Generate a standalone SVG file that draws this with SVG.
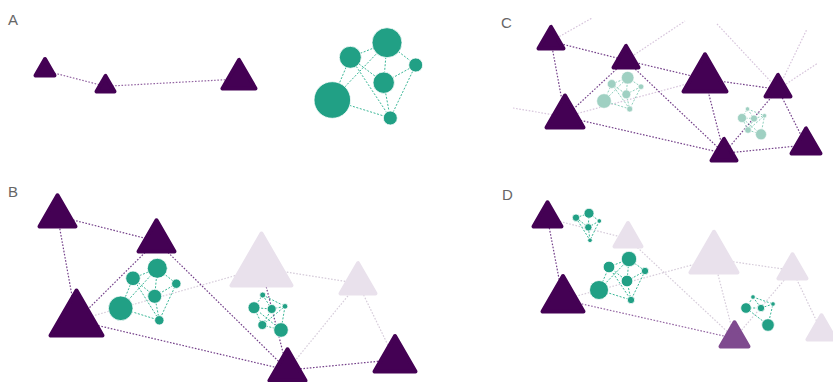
<svg xmlns="http://www.w3.org/2000/svg" width="833" height="382" viewBox="0 0 833 382">
<style>
.lbl{font-family:"Liberation Sans",Arial,sans-serif;font-size:15px;fill:#666}
.td{fill:#440154;stroke:#440154;stroke-width:4;stroke-linejoin:round}
.tl{fill:#e9e1ec;stroke:#e9e1ec;stroke-width:4;stroke-linejoin:round}
.tm{fill:#7f4a8f;stroke:#7f4a8f;stroke-width:4;stroke-linejoin:round}
.ed{fill:none;stroke:#74408a;stroke-width:1.2;stroke-dasharray:1.6 1.6}
.em{fill:none;stroke:#9466a3;stroke-width:1.2;stroke-dasharray:1.6 1.6}
.el{fill:none;stroke:#d6ccda;stroke-width:1.2;stroke-dasharray:1.6 1.6}
.ef{fill:none;stroke:#d7c5dc;stroke-width:1.2;stroke-dasharray:1.6 1.6}
.eg{fill:none;stroke:#3bb797;stroke-width:1;stroke-dasharray:2 1.6}
.egl{fill:none;stroke:#8fd0bd;stroke-width:1;stroke-dasharray:2 1.6}
.ng{fill:#21a085;stroke:#fff;stroke-width:0.8}
.ngl{fill:#9fd0c2;stroke:#fff;stroke-width:0.6}
</style>

<g id="labels">
<text class="lbl" x="8" y="25">A</text>
<text class="lbl" x="501" y="28">C</text>
<text class="lbl" x="8" y="197">B</text>
<text class="lbl" x="502" y="200">D</text>
</g>

<g id="connectors">
<path class="em" d="M45 70.7L105.5 86.3M105.5 86.3L239 79"/>
<path class="ef" d="M551 41.3L592 18M626 60.3L685 21M717 24L778 89.3M778 89.3L807 29M778 89.3L818 63M565 116.8L513 108M565 116.8L705 79.1"/>
<path class="ed" d="M551 41.3L626 60.3M551 41.3L565 116.8M626 60.3L565 116.8M626 60.3L705 79.1M626 60.3L724 153.3M705 79.1L778 89.3M705 79.1L724 153.3M565 116.8L724 153.3M778 89.3L724 153.3M778 89.3L806 145.1M724 153.3L806 145.1"/>
<path class="el" d="M76.5 320.5L261.5 268.2M261.5 268.2L358 283.4M358 283.4L287.5 370.1M358 283.4L395 359.7"/>
<path class="ed" d="M57.5 216.1L156.5 241.1M57.5 216.1L76.5 320.5M156.5 241.1L76.5 320.5M156.5 241.1L287.5 370.1M76.5 320.5L287.5 370.1M287.5 370.1L395 359.7M261.5 268.2L287.5 370.1"/>
<path class="el" d="M547.5 218.4L628 238.7M628 238.7L734.5 338.4M563 299.7L714 259M714 259L792.5 270.4M714 259L734.5 338.4M792.5 270.4L734.5 338.4M792.5 270.4L821.5 331.4"/>
<path class="ed" d="M547.5 218.4L563 299.7"/>
<path class="em" d="M563 299.7L734.5 338.4"/>
</g>

<g id="cluster-a">
<path class="eg" d="M350.3 57.3L387 42.7M350.3 57.3L332.3 100M332.3 100L387 42.7M387 42.7L415.7 65M387 42.7L383.7 82.7M415.7 65L383.7 82.7M383.7 82.7L390.3 118M350.3 57.3L383.7 82.7M350.3 57.3L390.3 118M415.7 65L390.3 118M332.3 100L390.3 118"/>
<circle class="ng" cx="332.3" cy="100" r="18.3"/>
<circle class="ng" cx="387" cy="42.7" r="15"/>
<circle class="ng" cx="350.3" cy="57.3" r="11"/>
<circle class="ng" cx="415.7" cy="65" r="7"/>
<circle class="ng" cx="383.7" cy="82.7" r="10.7"/>
<circle class="ng" cx="390.3" cy="118" r="7"/>
</g>

<g id="cluster-c1">
<path class="egl" d="M611.7 84L627.7 77.7M611.7 84L604 101M604 101L627.7 77.7M627.7 77.7L641 86.7M627.7 77.7L626.3 94.3M641 86.7L626.3 94.3M626.3 94.3L629.7 109M611.7 84L626.3 94.3M611.7 84L629.7 109M641 86.7L629.7 109M604 101L629.7 109"/>
<circle class="ngl" cx="604" cy="101" r="7.3"/>
<circle class="ngl" cx="627.7" cy="77.7" r="6.3"/>
<circle class="ngl" cx="611.7" cy="84" r="4.4"/>
<circle class="ngl" cx="641" cy="86.7" r="2.8"/>
<circle class="ngl" cx="626.3" cy="94.3" r="4.4"/>
<circle class="ngl" cx="629.7" cy="109" r="3"/>
</g>

<g id="cluster-c2">
<path class="egl" d="M748 130L742 118M748 130L761 134.3M761 134.3L742 118M742 118L747.5 109M742 118L754 118.5M747.5 109L754 118.5M754 118.5L764.5 115.7M748 130L754 118.5M748 130L764.5 115.7M747.5 109L764.5 115.7M761 134.3L764.5 115.7"/>
<circle class="ngl" cx="761" cy="134.3" r="5.5"/>
<circle class="ngl" cx="742" cy="118" r="4.5"/>
<circle class="ngl" cx="748" cy="130" r="3.3"/>
<circle class="ngl" cx="754" cy="118.5" r="3.5"/>
<circle class="ngl" cx="747.5" cy="109" r="2.2"/>
<circle class="ngl" cx="764.5" cy="115.7" r="2.2"/>
</g>

<g id="cluster-b1">
<path class="eg" d="M133 278.3L157.3 268.3M133 278.3L120.7 308.3M120.7 308.3L157.3 268.3M157.3 268.3L176.3 283.7M157.3 268.3L154.7 296.3M176.3 283.7L154.7 296.3M154.7 296.3L159.3 320.3M133 278.3L154.7 296.3M133 278.3L159.3 320.3M176.3 283.7L159.3 320.3M120.7 308.3L159.3 320.3"/>
<circle class="ng" cx="120.7" cy="308.3" r="12.3"/>
<circle class="ng" cx="157.3" cy="268.3" r="10"/>
<circle class="ng" cx="133" cy="278.3" r="7.3"/>
<circle class="ng" cx="176.3" cy="283.7" r="4.7"/>
<circle class="ng" cx="154.7" cy="296.3" r="7"/>
<circle class="ng" cx="159.3" cy="320.3" r="4.7"/>
</g>

<g id="cluster-b2">
<path class="eg" d="M262.3 325L254 307.7M262.3 325L281 330M281 330L254 307.7M254 307.7L262.7 295M254 307.7L271.7 309M262.7 295L271.7 309M271.7 309L285 306.3M262.3 325L271.7 309M262.3 325L285 306.3M262.7 295L285 306.3M281 330L285 306.3"/>
<circle class="ng" cx="281" cy="330" r="7.3"/>
<circle class="ng" cx="254" cy="307.7" r="6"/>
<circle class="ng" cx="262.3" cy="325" r="4.5"/>
<circle class="ng" cx="271.7" cy="309" r="4.5"/>
<circle class="ng" cx="262.7" cy="295" r="3"/>
<circle class="ng" cx="285" cy="306.3" r="2.8"/>
</g>

<g id="cluster-da">
<path class="eg" d="M576 217.7L589 213.3M589 213.3L599.3 221M589 213.3L588.3 227.3M599.3 221L588.3 227.3M588.3 227.3L590 240.3M576 217.7L588.3 227.3M576 217.7L590 240.3M599.3 221L590 240.3"/>
<circle class="ng" cx="589" cy="213.3" r="5"/>
<circle class="ng" cx="576" cy="217.7" r="3.7"/>
<circle class="ng" cx="588.3" cy="227.3" r="3.7"/>
<circle class="ng" cx="599.3" cy="221" r="2.3"/>
<circle class="ng" cx="590" cy="240.3" r="2.3"/>
</g>

<g id="cluster-db">
<path class="eg" d="M609 267L629 259M609 267L599 290M599 290L629 259M629 259L645 271M629 259L627 281M645 271L627 281M627 281L631 300M609 267L627 281M609 267L631 300M645 271L631 300M599 290L631 300"/>
<circle class="ng" cx="599" cy="290" r="9.5"/>
<circle class="ng" cx="629" cy="259" r="7.7"/>
<circle class="ng" cx="609" cy="267" r="5.8"/>
<circle class="ng" cx="627" cy="281" r="5.8"/>
<circle class="ng" cx="645" cy="271" r="3.7"/>
<circle class="ng" cx="631" cy="300" r="3.7"/>
</g>

<g id="cluster-dc">
<path class="eg" d="M768 325L746 308M746 308L753 297M746 308L761 308M753 297L761 308M761 308L773 304M753 297L773 304M768 325L773 304"/>
<circle class="ng" cx="768" cy="325" r="6.3"/>
<circle class="ng" cx="746" cy="308" r="5.3"/>
<circle class="ng" cx="761" cy="308" r="3.7"/>
<circle class="ng" cx="753" cy="297" r="2.3"/>
<circle class="ng" cx="773" cy="304" r="2.3"/>
</g>

<g id="node-a1"><polygon class="td" points="35.5,75.5 54.5,75.5 45,59"/></g>
<g id="node-a2"><polygon class="td" points="96.5,91.5 114.5,91.5 105.5,75.9"/></g>
<g id="node-a3"><polygon class="td" points="222.5,88.5 255.5,88.5 239,59.9"/></g>

<g id="node-c1"><polygon class="td" points="538.5,48.5 563.5,48.5 551,26.9"/></g>
<g id="node-c2"><polygon class="td" points="613.5,67.5 638.5,67.5 626,45.9"/></g>
<g id="node-c3"><polygon class="td" points="683.5,91.5 726.5,91.5 705,54.3"/></g>
<g id="node-c4"><polygon class="td" points="765.5,96.5 790.5,96.5 778,74.9"/></g>
<g id="node-c5"><polygon class="td" points="546.5,127.5 583.5,127.5 565,95.5"/></g>
<g id="node-c6"><polygon class="td" points="711.5,160.5 736.5,160.5 724,138.9"/></g>
<g id="node-c7"><polygon class="td" points="791.5,153.5 820.5,153.5 806,128.4"/></g>

<g id="node-b1"><polygon class="td" points="39.5,226.5 75.5,226.5 57.5,195.3"/></g>
<g id="node-b2"><polygon class="td" points="138.5,251.5 174.5,251.5 156.5,220.3"/></g>
<g id="node-b3"><polygon class="td" points="50.5,335.5 102.5,335.5 76.5,290.5"/></g>
<g id="node-b4"><polygon class="tl" points="231.5,285.5 291.5,285.5 261.5,233.5"/></g>
<g id="node-b5"><polygon class="tl" points="340.5,293.5 375.5,293.5 358,263.2"/></g>
<g id="node-b6"><polygon class="td" points="269.5,380.5 305.5,380.5 287.5,349.3"/></g>
<g id="node-b7"><polygon class="td" points="374.5,371.5 415.5,371.5 395,336"/></g>

<g id="node-d1"><polygon class="td" points="533.5,226.5 561.5,226.5 547.5,202.3"/></g>
<g id="node-d2"><polygon class="tl" points="614.5,246.5 641.5,246.5 628,223.1"/></g>
<g id="node-d3"><polygon class="td" points="542.5,311.5 583.5,311.5 563,276"/></g>
<g id="node-d4"><polygon class="tl" points="690.5,272.5 737.5,272.5 714,231.8"/></g>
<g id="node-d5"><polygon class="tl" points="778.5,278.5 806.5,278.5 792.5,254.3"/></g>
<g id="node-d6"><polygon class="tm" points="720.5,346.5 748.5,346.5 734.5,322.3"/></g>
<g id="node-d7"><polygon class="tl" points="807.5,339.5 835.5,339.5 821.5,315.3"/></g>
</svg>
